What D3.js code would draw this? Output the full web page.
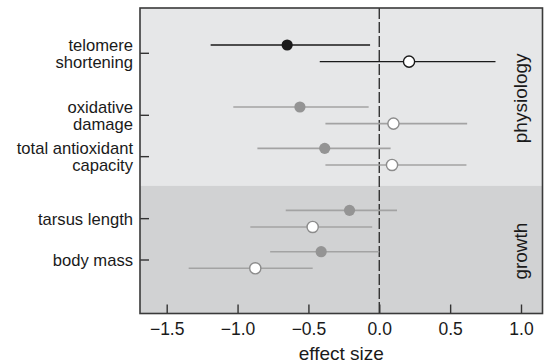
<!DOCTYPE html>
<html>
<head>
<meta charset="utf-8">
<script src="https://cdn.jsdelivr.net/npm/d3@7"></script>
<style>
  html, body { margin: 0; padding: 0; background: #fff; }
  svg { display: block; font-family: "Liberation Sans", Arial, sans-serif; }
</style>
</head>
<body>
<svg id="chart" width="546" height="364"></svg>
<script>
// rows, top to bottom
const categories = ["telomere shortening", "oxidative damage", "total antioxidant capacity", "tarsus length", "body mass"];
const labelLines = [["telomere", "shortening"], ["oxidative", "damage"], ["total antioxidant", "capacity"], ["tarsus length"], ["body mass"]];
const groups = ["physiology", "physiology", "physiology", "growth", "growth"];
const groupNames = ["physiology", "growth"];

// filled-circle series (upper point of each row)
const filledMean = [-0.65, -0.56, -0.385, -0.21, -0.41];
const filledLo   = [-1.19, -1.03, -0.86, -0.66, -0.77];
const filledHi   = [-0.065, -0.075, 0.08, 0.125, 0.0];

// open-circle series (lower point of each row)
const openMean = [0.21, 0.10, 0.09, -0.47, -0.875];
const openLo   = [-0.42, -0.38, -0.38, -0.91, -1.345];
const openHi   = [0.82, 0.62, 0.615, -0.05, -0.47];

const xTicks = [-1.5, -1.0, -0.5, 0.0, 0.5, 1.0];

let svg = d3.select("#chart");
let pLeft = 140, pRight = 542.5, pTop = 8, pBottom = 313.5;

// row slots: a little extra room after telomere and between groups
let rowPos = [0, 1.5, 2.5, 4, 5];

let x = d3.scaleLinear().domain([-1.5, 1.0]).range([166.7, 521]);
let y = d3.scaleLinear().domain([0, 5]).range([53.3, 260]);
let off = 8.3;

// where physiology ends and growth starts
let boundary = (y(rowPos[2]) + y(rowPos[3])) / 2 - 2;

svg.append("rect").attr("x", pLeft).attr("y", pTop)
    .attr("width", pRight - pLeft).attr("height", boundary - pTop)
    .attr("fill", "#e6e7e8");
svg.append("rect").attr("x", pLeft).attr("y", boundary)
    .attr("width", pRight - pLeft).attr("height", pBottom - boundary)
    .attr("fill", "#d1d2d3");

// zero line
svg.append("line")
    .attr("x1", x(0)).attr("x2", x(0))
    .attr("y1", pTop).attr("y2", pBottom)
    .attr("stroke", "#333").attr("stroke-width", 1.4)
    .attr("stroke-dasharray", "11,3");

let rows = categories.map(function (c, i) {
    let dark = i === 0;
    return [
        { i: i, mean: filledMean[i], lo: filledLo[i], hi: filledHi[i], dy: -off, open: false, dark: dark },
        { i: i, mean: openMean[i], lo: openLo[i], hi: openHi[i], dy: off, open: true, dark: dark }
    ];
});
let pts = d3.merge(rows);

svg.append("g").selectAll("line")
    .data(pts).enter().append("line")
    .attr("x1", function (d) { return x(d.lo); })
    .attr("x2", function (d) { return x(d.hi); })
    .attr("y1", function (d) { return y(rowPos[d.i]) + d.dy; })
    .attr("y2", function (d) { return y(rowPos[d.i]) + d.dy; })
    .attr("stroke", function (d) { return d.dark ? "#1a1a1a" : "#a3a3a3"; })
    .attr("stroke-width", function (d) { return d.dark ? 1.3 : 1.6; });

svg.append("g").selectAll("circle")
    .data(pts).enter().append("circle")
    .attr("cx", function (d) { return x(d.mean); })
    .attr("cy", function (d) { return y(rowPos[d.i]) + d.dy; })
    .attr("r", 5.6)
    .attr("fill", function (d) { return d.open ? "#fff" : (d.dark ? "#1a1a1a" : "#949494"); })
    .attr("stroke", function (d) { return d.open ? (d.dark ? "#1a1a1a" : "#8c8c8c") : "none"; })
    .attr("stroke-width", 1.4);

// x axis, ticks pointing inward
let xAxis = d3.axisBottom(x).tickValues(xTicks)
    .tickSizeInner(-9).tickSizeOuter(0).tickPadding(9)
    .tickFormat(function (d) { return d3.format(".1f")(d).replace("-", "\u2013"); });
let gx = svg.append("g").attr("transform", "translate(0," + pBottom + ")").call(xAxis);
gx.select(".domain").remove();
gx.selectAll("line").attr("stroke", "#333").attr("stroke-width", 1.4);
gx.selectAll("text").attr("font-size", 17.5).attr("fill", "#1a1a1a")
    .style("font-family", "'Liberation Sans', Arial, sans-serif");

// y ticks
svg.append("g").selectAll("line")
    .data(categories).enter().append("line")
    .attr("x1", pLeft).attr("x2", pLeft + 9)
    .attr("y1", function (d, i) { return y(rowPos[i]); })
    .attr("y2", function (d, i) { return y(rowPos[i]); })
    .attr("stroke", "#333").attr("stroke-width", 1.4);

// row labels, one text per line
let lh = 17.4;
labelLines.forEach(function (lines, i) {
    let y0 = y(rowPos[i]) + 6 - (lines.length - 1) * lh / 2;
    svg.append("g").selectAll("text")
        .data(lines).enter().append("text")
        .attr("text-anchor", "end")
        .attr("font-size", 16.6)
        .attr("fill", "#1a1a1a")
        .attr("x", 133)
        .attr("y", function (d, k) { return y0 + k * lh; })
        .text(function (d) { return d; });
});

// group labels
let groupSpan = {
    physiology: [pTop, boundary],
    growth: [boundary, pBottom]
};
svg.append("g").selectAll("text")
    .data(groupNames).enter().append("text")
    .attr("transform", function (d) {
        let c = (groupSpan[d][0] + groupSpan[d][1]) / 2 + 1.5;
        return "translate(527," + c + ") rotate(-90)";
    })
    .attr("text-anchor", "middle")
    .attr("font-size", 19)
    .attr("fill", "#1a1a1a")
    .text(function (d) { return d; });

// frame
svg.append("rect").attr("x", pLeft).attr("y", pTop)
    .attr("width", pRight - pLeft).attr("height", pBottom - pTop)
    .attr("fill", "none").attr("stroke", "#3a3a3a").attr("stroke-width", 1.6);

svg.append("text")
    .attr("x", (pLeft + pRight) / 2).attr("y", 360)
    .attr("text-anchor", "middle")
    .attr("font-size", 19)
    .attr("fill", "#1a1a1a")
    .text("effect size");
</script>
</body>
</html>
